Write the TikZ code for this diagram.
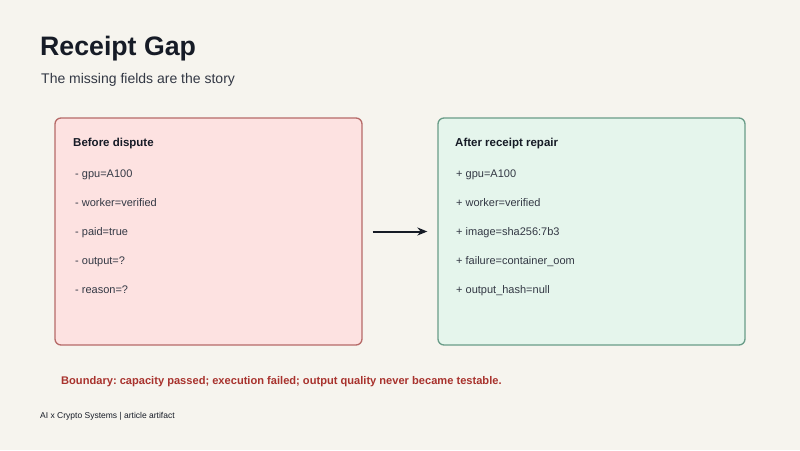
\documentclass[tikz,border=0pt]{standalone}
\usepackage{fontspec}
\setmainfont{Liberation Sans}
\usetikzlibrary{arrows.meta}
\frenchspacing
\definecolor{paper}{HTML}{F6F4EE}
\definecolor{ink}{HTML}{161B26}
\definecolor{subink}{HTML}{333844}
\definecolor{badfill}{HTML}{FDE2E1}
\definecolor{badline}{HTML}{B66A68}
\definecolor{goodfill}{HTML}{E5F5EC}
\definecolor{goodline}{HTML}{6A9C88}
\definecolor{warn}{HTML}{A8322D}
\tikzset{
  panel/.style={rounded corners=6pt, line width=1.3pt, minimum width=307pt, minimum height=227pt, inner sep=0pt},
  head/.style={anchor=base west, inner sep=0pt, text=ink, font=\fontsize{11.5}{14}\selectfont\bfseries},
  field/.style={anchor=base west, inner sep=0pt, text=subink, font=\fontsize{11}{13}\selectfont},
}
\begin{document}
\begin{tikzpicture}[x=1pt, y=-1pt]
\fill[paper] (0,0) rectangle (800,450);
\useasboundingbox (0,0) rectangle (800,450);
\node[anchor=base west, inner sep=0pt, text=ink, font=\fontsize{26.7}{30}\selectfont\bfseries] (title) at (40,55) {Receipt Gap};
\node[anchor=base west, inner sep=0pt, text=subink, font=\fontsize{14}{17}\selectfont] (sub) at (41,83) {The missing fields are the story};
% before
\node[panel, draw=badline, fill=badfill] (before) at (208.5,231.5) {};
\node[head] (bh) at (73,146) {Before dispute};
\node[field] (b1) at (75,177) {- gpu=A100};
\node[field] (b2) at (75,206) {- worker=verified};
\node[field] (b3) at (75,235) {- paid=true};
\node[field] (b4) at (75,264) {- output=?};
\node[field] (b5) at (75,293) {- reason=?};
% after
\node[panel, draw=goodline, fill=goodfill] (after) at (591.5,231.5) {};
\node[head] (ah) at (455,146) {After receipt repair};
\node[field] (a1) at (456,177) {+ gpu=A100};
\node[field] (a2) at (456,206) {+ worker=verified};
\node[field] (a3) at (456,235) {+ image=sha256:7b3};
\node[field] (a4) at (456,264) {+ failure=container\_oom};
\node[field] (a5) at (456,293) {+ output\_hash=null};
\draw [-{Stealth[length=10pt, width=8pt]}, line width=2pt, draw=ink] ([xshift=10pt]before.east) -- ([xshift=-10pt]after.west);
\node[anchor=base west, inner sep=0pt, text=warn, font=\fontsize{11.1}{14}\selectfont\bfseries] (bound) at (61,384) {Boundary: capacity passed; execution failed; output quality never became testable.};
\node[anchor=base west, inner sep=0pt, text=ink, font=\fontsize{8.5}{10}\selectfont] (foot) at (40,418.5) {AI x Crypto Systems | article artifact};
\end{tikzpicture}
\end{document}
